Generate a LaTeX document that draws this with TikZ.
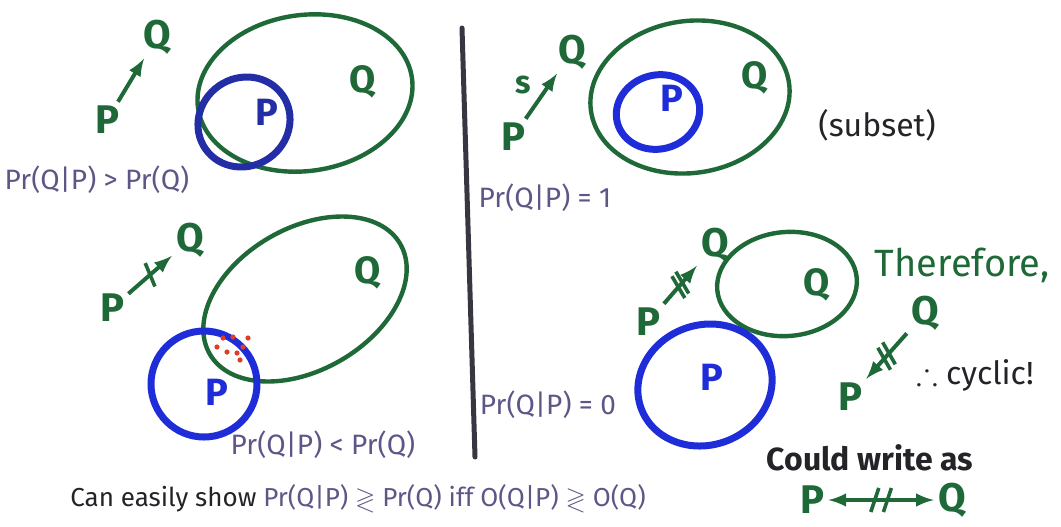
\documentclass[tikz,border=0pt]{standalone}
\usepackage{amssymb}
\usepackage{fontspec}
\setmainfont{Fira Sans}
\usetikzlibrary{shapes.geometric, decorations.markings}

\definecolor{penGreen}{RGB}{30,105,55}
\definecolor{penBlue}{RGB}{30,45,215}
\definecolor{darkBlue}{RGB}{35,45,165}
\definecolor{penGrey}{RGB}{95,85,135}
\definecolor{penBlack}{RGB}{35,35,40}
\definecolor{dotRed}{RGB}{225,60,40}
\definecolor{divGrey}{RGB}{55,55,65}

\begin{document}
\begin{tikzpicture}[x=0.5pt, y=-0.5pt,
  lett/.style={font=\fontsize{20}{24}\selectfont\bfseries, text=penGreen, inner sep=2pt},
  inlett/.style={font=\fontsize{19}{22}\selectfont\bfseries, inner sep=1pt},
  qset/.style={draw=penGreen, line width=2.2pt, ellipse, inner sep=0pt},
  pset/.style={draw=penBlue, line width=3.5pt, ellipse, inner sep=0pt},
  link/.style={-latex, line width=2pt, draw=penGreen},
  notone/.style={postaction={decorate, decoration={markings,
      mark=at position .5 with {\draw[-, line width=1.8pt, penGreen] (-2pt,-6pt) -- (2pt,6pt);}}}},
  nottwo/.style={postaction={decorate, decoration={markings,
      mark=at position .44 with {\draw[-, line width=1.8pt, penGreen] (-2pt,-6pt) -- (2pt,6pt);},
      mark=at position .56 with {\draw[-, line width=1.8pt, penGreen] (-2pt,-6pt) -- (2pt,6pt);}}}},
  note/.style={font=\fontsize{14}{16}\selectfont, text=penGrey},
  words/.style={font=\fontsize{16}{19}\selectfont, text=penBlack},
  ]
\useasboundingbox (0,0) rectangle (1061,526);

% ---- Divider -----------------------------------------------------------------
\draw[divGrey, line width=2.5pt, line cap=round] (462,28) -- (475,457);

% ---- Top left: P -> Q --------------------------------------------------------
\node[lett] (pA) at (107,120) {P};
\node[lett] (qA) at (157,37) {Q};
\draw[link] (pA) -- (qA);

\node[qset, minimum width=108pt, minimum height=78pt, rotate=8] (qsetA) at (305,93) {};
\node[pset, draw=darkBlue, minimum width=47pt, minimum height=44pt, rotate=35] (psetA) at (244,122) {};
\node[inlett, text=penGreen] (qinA) at (363,82) {Q};
\node[inlett, text=darkBlue] (pinA) at (267,112) {P};
\node[note] (prA) at (97,180) {Pr(Q|P) > Pr(Q)};

% ---- Bottom left: P -/-> Q ---------------------------------------------------
\node[lett] (pC) at (112,308) {P};
\node[lett] (qC) at (190,240) {Q};
\draw[link, notone] (pC) -- (qC);

\node[qset, minimum width=110pt, minimum height=71pt, rotate=30] (qsetC) at (305,299) {};
\node[pset, minimum width=53pt, minimum height=53pt] (psetC) at (204,384) {};
\node[inlett, text=penGreen] (qinC) at (368,273) {Q};
\node[inlett, text=penBlue] (pinC) at (217,392) {P};
% overlap dots
\foreach \x/\y in {223/338, 233/337, 243/347, 227/352, 237/353, 240/360, 217/347, 248/338}
  \fill[dotRed] (\x,\y) circle (1.3pt);
\node[note] (prC) at (323,445) {Pr(Q|P) < Pr(Q)};

% ---- Top right: subset -------------------------------------------------------
\node[lett] (pB) at (513,137) {P};
\node[lett] (qB) at (572,52) {Q};
\draw[link] (pB) -- (qB);
\node[lett, font=\fontsize{16}{18}\selectfont\bfseries] (sB) at (523,85) {s};

\node[qset, minimum width=100pt, minimum height=76pt, rotate=8] (qsetB) at (690,97) {};
\node[pset, minimum width=42pt, minimum height=37pt, rotate=15] (psetB) at (658,112) {};
\node[inlett, text=penGreen] (qinB) at (755,78) {Q};
\node[inlett, text=penBlue] (pinB) at (672,98) {P};
\node[words] (subB) at (877,125) {(subset)};
\node[note] (prB) at (545,198) {Pr(Q|P) = 1};

% ---- Bottom right: disjoint --------------------------------------------------
\node[lett] (pD) at (648,322) {P};
\node[lett] (qD) at (715,245) {Q};
\draw[link, nottwo] (pD) -- (qD);

\node[qset, minimum width=70pt, minimum height=52pt, rotate=5] (qsetD) at (787,284) {};
\node[pset, minimum width=68pt, minimum height=60pt, rotate=20] (psetD) at (705,385) {};
\node[inlett, text=penGreen] (qinD) at (817,285) {Q};
\node[inlett, text=penBlue] (pinD) at (712,377) {P};
\node[note] (prD) at (548,405) {Pr(Q|P) = 0};

% ---- Therefore, cyclic -------------------------------------------------------
\node[words, text=penGreen, font=\fontsize{19}{22}\selectfont] (thE) at (962,265) {Therefore,};
\node[lett] (qE) at (925,313) {Q};
\node[lett] (pE) at (850,397) {P};
\draw[link, nottwo] (qE) -- (pE);
\node[words] (cycE) at (975,375) {$\therefore$ cyclic!};

% ---- Could write as ----------------------------------------------------------
\node[words, font=\fontsize{16}{19}\selectfont\bfseries] (cwF) at (870,458) {Could write as};
\node[lett] (pF) at (812,500) {P};
\node[lett] (qF) at (952,500) {Q};
\draw[link, latex-latex, nottwo] (pF) -- (qF);

% ---- Bottom line -------------------------------------------------------------
\node[note, font=\fontsize{13}{15}\selectfont] (botG) at (358,498)
  {{\color{penBlack}Can easily show} Pr(Q|P) $\gtrless$ Pr(Q) iff O(Q|P) $\gtrless$ O(Q)};

\end{tikzpicture}
\end{document}
